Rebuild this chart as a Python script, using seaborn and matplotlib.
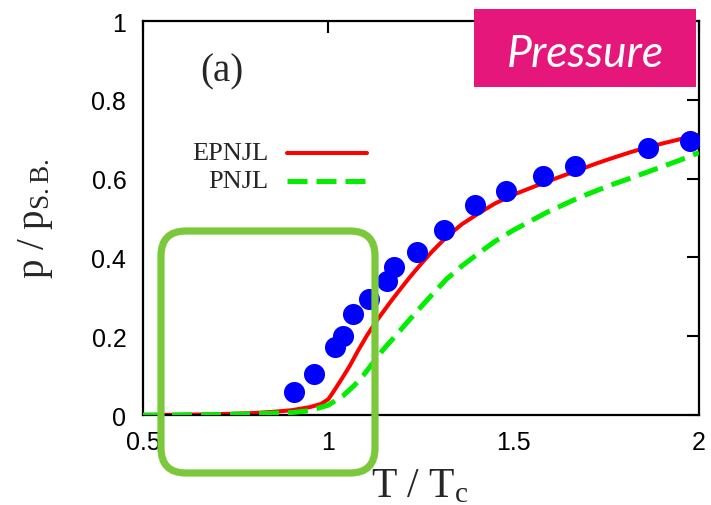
import matplotlib
matplotlib.use("Agg")
import matplotlib.pyplot as plt
from matplotlib.patches import FancyBboxPatch
from matplotlib.transforms import IdentityTransform
from matplotlib.lines import Line2D
import seaborn as sns
import pandas as pd

# Lattice pressure ratio (filled circles)
lat_T = [0.908, 0.961, 1.018, 1.040, 1.066, 1.110, 1.158, 1.177, 1.240,
         1.312, 1.396, 1.479, 1.579, 1.665, 1.862, 1.976]
lat_p = [0.059, 0.104, 0.173, 0.200, 0.256, 0.294, 0.340, 0.376, 0.414,
         0.470, 0.533, 0.569, 0.607, 0.632, 0.678, 0.695]

# EPNJL model curve
epnjl_T = [0.5, 0.6, 0.7, 0.8, 0.85, 0.9, 0.95, 0.98, 1.0, 1.013, 1.035,
           1.058, 1.08, 1.103, 1.125, 1.148, 1.17, 1.193, 1.22, 1.247, 1.28,
           1.319, 1.36, 1.409, 1.45, 1.499, 1.545, 1.589, 1.635, 1.679,
           1.725, 1.769, 1.815, 1.859, 1.905, 1.949, 2.0]
epnjl_p = [0.0, 0.0005, 0.002, 0.005, 0.008, 0.012, 0.020, 0.028, 0.040,
           0.058, 0.090, 0.125, 0.163, 0.200, 0.232, 0.262, 0.290, 0.318,
           0.350, 0.380, 0.415, 0.452, 0.484, 0.514, 0.537, 0.559, 0.576,
           0.592, 0.608, 0.623, 0.639, 0.653, 0.667, 0.679, 0.690, 0.700,
           0.711]

# PNJL model curve
pnjl_T = [0.5, 0.6, 0.7, 0.8, 0.9, 0.95, 1.0, 1.04, 1.07, 1.094, 1.12,
          1.148, 1.185, 1.22, 1.26, 1.292, 1.319, 1.36, 1.409, 1.45, 1.499,
          1.545, 1.589, 1.635, 1.679, 1.725, 1.769, 1.815, 1.859, 1.905,
          1.949, 2.0]
pnjl_p = [0.0, 0.0003, 0.001, 0.003, 0.006, 0.011, 0.025, 0.049, 0.075,
          0.100, 0.132, 0.166, 0.205, 0.243, 0.285, 0.318, 0.345, 0.378,
          0.413, 0.441, 0.469, 0.492, 0.514, 0.534, 0.553, 0.570, 0.586,
          0.601, 0.616, 0.632, 0.647, 0.666]

x_ticks = [0.5, 1, 1.5, 2]
x_ticklabels = ["0.5", "1", "1.5", "2"]
y_ticks = [0, 0.2, 0.4, 0.6, 0.8, 1]
y_ticklabels = ["0", "0.2", "0.4", "0.6", "0.8", "1"]

legend_names = ["EPNJL", "PNJL"]

sns.set_style("white")
plt.rcParams["font.family"] = ["Liberation Sans", "DejaVu Sans"]
plt.rcParams["mathtext.fontset"] = "custom"
plt.rcParams["mathtext.rm"] = "Liberation Serif"
plt.rcParams["mathtext.it"] = "Liberation Serif:italic"

RED = "#ff0000"
GREEN = "#00ee00"
BLUE = "#0000ff"
serif = ["Liberation Serif", "DejaVu Serif"]

fig = plt.figure(figsize=(7.11, 5.06), dpi=100)
ax = fig.add_axes([143 / 711, 1 - 416 / 506, 556 / 711, 394 / 506])

df_e = pd.DataFrame({"T": epnjl_T, "p": epnjl_p})
df_p = pd.DataFrame({"T": pnjl_T, "p": pnjl_p})
df_l = pd.DataFrame({"T": lat_T, "p": lat_p})

sns.lineplot(data=df_e, x="T", y="p", ax=ax, color=RED, lw=2.9,
             estimator=None, sort=True, zorder=2)
sns.lineplot(data=df_p, x="T", y="p", ax=ax, color=GREEN, lw=3.6,
             estimator=None, sort=True, zorder=3,
             linestyle=(0, (4, 1.8)))
sns.scatterplot(data=df_l, x="T", y="p", ax=ax, color=BLUE, s=230,
                linewidth=0, marker="o", zorder=4)

ax.set_xlim(0.5, 2)
ax.set_ylim(0, 1)
ax.set_xticks(x_ticks)
ax.set_xticklabels(x_ticklabels)
ax.set_yticks(y_ticks)
ax.set_yticklabels(y_ticklabels)
ax.tick_params(direction="in", length=8.6, width=1.5, labelsize=18,
               top=True, right=True, colors="black")
ax.tick_params(axis="y", pad=12)
ax.tick_params(axis="x", pad=11)
for s in ax.spines.values():
    s.set_linewidth(1.6)
    s.set_color("black")

ax.set_xlabel(r"T / T$_\mathrm{c}$", fontsize=30, family=serif)
ax.xaxis.label.set_va("baseline")
ax.xaxis.set_label_coords(0.498, -0.2056)
ax.set_ylabel(r"p / p$_\mathrm{S.B.}$", fontsize=28, family=serif)
ax.yaxis.label.set_va("center")
ax.yaxis.set_label_coords(-0.194, 0.5)

ax.text(57 / 556, 1 - 50 / 394, "(a)", transform=ax.transAxes,
        fontsize=28, family=serif, ha="left", va="center")

# key: names right-aligned, sample lines to their right
key_y = [1 - (154 - 22) / 394, 1 - (182 - 22) / 394]
key_styles = [dict(color=RED, lw=2.9),
              dict(color=GREEN, lw=3.6, linestyle=(0, (4, 1.8)))]
for name, yk, st in zip(legend_names, key_y, key_styles):
    ax.text((268 - 143) / 556, yk, name, transform=ax.transAxes,
            fontsize=19, family=serif, ha="right", va="center")
    ax.add_line(Line2D([(287 - 143) / 556, (367 - 143) / 556], [yk, yk],
                       transform=ax.transAxes, **st))

# title badge
badge = FancyBboxPatch((474 / 711, 1 - 88 / 506), 222 / 711, 78 / 506,
                       boxstyle="square,pad=0", transform=fig.transFigure,
                       facecolor="#e5177b", edgecolor="none", zorder=5)
fig.patches.append(badge)
fig.text(585 / 711, 1 - 67 / 506, "Pressure", color="white", fontsize=32,
         family=["Lato", "DejaVu Sans"], style="italic", ha="center",
         va="baseline", zorder=6)

# highlight frame around the transition region
frame = FancyBboxPatch((161, 506 - 474), 214, 242,
                       boxstyle="round,pad=0,rounding_size=25",
                       transform=IdentityTransform(), facecolor="none",
                       edgecolor="#7bc83c", linewidth=5.2, zorder=5,
                       clip_on=False)
fig.patches.append(frame)

fig.savefig("out.png", dpi=100)
